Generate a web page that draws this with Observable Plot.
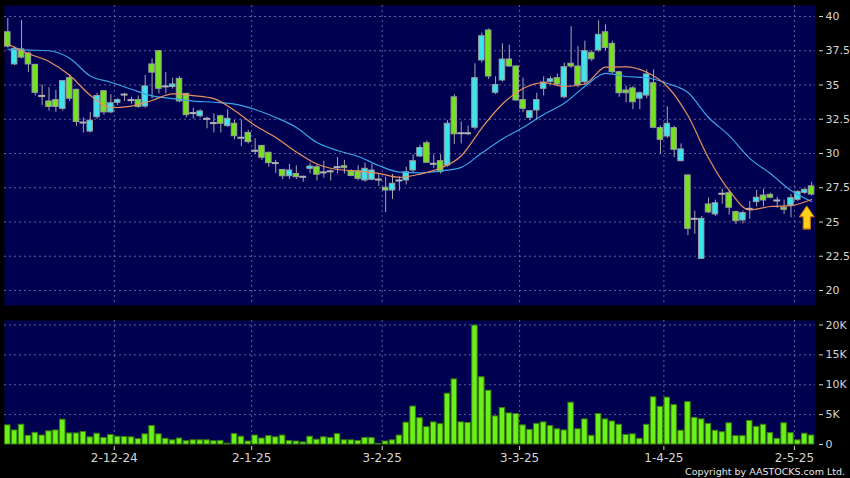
<!DOCTYPE html>
<html><head><meta charset="utf-8">
<script src="https://cdn.jsdelivr.net/npm/d3@7"></script>
<script src="https://cdn.jsdelivr.net/npm/@observablehq/plot@0.6"></script>
<style>
html,body{margin:0;padding:0;background:#000;}
#chart{position:relative;width:850px;height:478px;background:#000;overflow:hidden;font-family:"DejaVu Sans",sans-serif;}
#chart svg{position:absolute;left:0;}
#copy{position:absolute;right:5px;top:467px;line-height:10px;color:#e6e6e6;font-size:9.5px;font-family:"DejaVu Sans",sans-serif;white-space:nowrap;}
</style></head><body><div id="chart"><div id="copy">Copyright by AASTOCKS.com Ltd.</div></div>
<script>
// ---- data (daily candles, index 0..117) ----
const open = [38.85,36.5,37.6,37.3,36.47,34.2,33.8,33.9,33.26,35.5,34.65,32.26,31.6,32.65,34.55,33.0,33.7,34.3,33.9,33.9,
33.43,36.5,37.47,34.9,34.85,35.45,34.35,32.95,32.72,32.53,32.22,32.72,32.0,32.17,31.15,31.5,30.2,30.55,30.05,29.3,
28.8,28.34,28.5,28.3,28.88,29.0,28.62,28.7,29.0,29.07,28.7,28.7,28.03,28.08,28.1,27.5,27.3,28.03,28.03,28.76,
29.78,30.75,29.25,29.44,29.12,34.1,31.48,31.48,31.88,36.79,38.98,34.43,35.33,36.86,36.35,33.9,32.6,33.14,34.72,35.22,
35.5,34.1,36.55,36.35,35.2,37.35,37.52,38.85,38.0,35.93,34.6,34.75,34.0,34.23,35.13,31.85,31.24,31.85,29.44,28.4,
25.23,22.31,26.28,25.55,27.06,27.1,25.72,25.11,25.96,26.45,26.93,26.98,26.57,26.04,26.2,26.62,27.13,27.6];
const high = [39.85,37.8,39.7,37.4,36.5,35.0,34.8,34.6,35.3,35.7,34.7,32.6,33.0,34.4,34.6,34.3,34.0,34.4,34.1,34.2,
35.7,36.9,37.5,35.9,35.5,35.6,34.4,33.3,33.2,32.65,32.9,32.8,33.2,32.4,32.45,31.7,31.07,30.6,30.1,29.5,
28.8,29.2,29.1,28.35,29.3,29.2,29.44,28.8,29.7,29.5,28.8,29.1,29.3,29.2,28.5,28.27,28.47,28.3,29.0,29.9,
30.6,30.9,29.9,29.9,32.4,34.3,32.3,32.0,36.55,38.8,39.1,35.6,38.0,37.9,36.4,35.5,33.1,34.4,35.6,35.6,
35.8,36.6,39.25,37.8,38.2,37.5,39.7,39.4,38.2,36.0,34.9,34.9,34.5,36.1,36.1,32.0,33.4,32.0,30.7,28.4,
25.8,25.4,26.75,26.6,27.4,27.3,25.8,25.8,26.5,27.3,27.4,27.1,26.8,26.6,27.0,27.3,27.4,27.9];
const low = [37.7,36.4,36.9,35.9,34.2,33.5,33.1,33.0,33.1,33.8,32.0,31.5,31.5,32.5,32.8,32.9,33.5,33.8,33.6,33.3,
33.3,34.0,34.35,34.35,34.7,33.7,32.6,32.5,32.6,31.8,31.5,31.5,31.9,31.0,30.5,30.7,29.9,29.5,29.0,28.55,
28.1,28.1,28.1,27.9,28.5,28.0,28.2,28.0,28.5,28.5,28.3,28.0,27.9,28.0,27.6,25.7,26.64,27.25,27.7,28.6,
29.7,29.3,28.9,28.5,29.0,30.66,30.7,31.3,31.7,36.6,35.4,34.3,35.2,36.3,33.8,33.0,32.4,32.4,34.2,35.0,
34.9,34.0,36.2,34.8,35.0,36.7,37.4,37.5,35.8,34.1,33.7,33.2,33.2,34.0,31.8,29.93,31.1,29.7,29.4,24.0,
24.1,22.3,25.6,25.4,26.3,25.5,24.8,24.85,25.2,26.1,26.1,26.7,26.0,25.55,25.3,26.5,27.0,26.9];
const close = [37.8,37.64,37.0,36.5,34.43,34.2,33.4,33.4,35.28,34.0,32.3,32.26,32.4,34.2,33.0,33.67,33.9,34.3,33.9,33.4,
34.9,35.9,34.72,34.9,35.04,33.8,32.8,32.95,33.07,32.53,32.22,32.17,32.53,31.26,31.15,30.83,30.2,29.69,29.3,29.3,
28.34,28.76,28.27,28.3,29.05,28.45,28.62,28.7,29.0,28.93,28.36,28.15,28.88,28.76,28.1,27.3,27.79,28.03,28.63,29.44,
30.4,29.32,29.25,28.64,32.17,31.4,31.48,31.48,35.5,38.56,35.62,35.0,36.86,36.35,33.87,33.26,33.09,33.9,35.18,35.42,
35.04,36.3,36.35,35.0,37.47,36.88,38.66,37.71,35.93,34.4,34.4,33.74,34.4,35.77,31.88,31.0,32.17,30.27,30.3,24.5,
25.23,25.23,25.7,26.37,27.06,26.04,25.06,25.65,25.96,26.77,26.57,26.77,26.57,25.89,26.74,27.18,27.35,27.0];
const volume = [3200,2350,3300,1450,1950,1500,2200,2350,4150,1850,
1850,2100,1200,1800,1100,1600,1300,1250,1200,900,
1700,3100,1700,950,700,1000,550,700,700,700,
550,600,150,1750,1300,500,1500,1000,1400,1200,
1500,600,500,350,1300,800,1200,1100,1750,700,
700,600,1100,1100,100,500,700,1500,3650,6350,
4400,2900,3700,3400,8500,10900,3700,3600,19900,11250,
9000,4700,6100,5200,5100,3200,2450,3450,3700,3100,
2550,2350,7000,2550,4200,1450,5100,4200,3850,3300,
1600,1700,950,3300,7900,6300,7850,6600,2300,7100,
4450,4200,3450,2300,2050,3550,1400,1400,3950,2950,
3300,1900,950,3550,1900,700,1800,1500];
// moving averages every third session
const maIdx = d3.range(0, 118, 3);
const ma10 = [37.99,37.28,36.72,35.71,34.25,33.34,33.46,33.87,34.35,34.23,34.01,33.14,32.04,31.17,30.11,29.23,28.83,28.72,28.55,28.26,
28.5,28.94,29.82,31.86,33.61,34.74,35.18,34.89,35.07,36.31,36.33,35.93,34.89,32.77,29.67,27.3,25.88,26.13,26.2,26.64];
const ma20 = [37.61,37.55,37.5,36.95,35.66,35.2,34.69,34.21,34.01,33.83,33.74,33.61,33.21,32.63,31.9,30.8,30.22,29.78,29.12,28.64,
28.58,28.72,28.99,30.04,31.06,31.9,32.85,33.67,34.89,35.85,35.62,35.53,35.11,34.45,32.63,31.31,29.64,28.54,27.3,26.5];
// first session of each month and its label
const monthStartIdx = [16, 36, 55, 75, 96, 115];
const monthLabels = ["2-12-24", "2-1-25", "3-2-25", "3-3-25", "1-4-25", "2-5-25"];
const priceTicks = [20, 22.5, 25, 27.5, 30, 32.5, 35, 37.5, 40];
const volTicks = [0, 5000, 10000, 15000, 20000];
const volLabels = ["0", "5K", "10K", "15K", "20K"];
const marker = [{i: 116.3, price: 24.5}];

// ---- styles ----
const NAVY = "#000050", GREEN = "#74e21c", CYAN = "#3ae6ee", DOJI = "#b4b4b4",
      OUTLINE = "#9a9fa0", WICK = "#a8a8a8", GRID = "#7272aa",
      ORANGE = "#e8915c", BLUE = "#3aa3e8", VOLFILL = "#6cf01a", VOLSTROKE = "#3a7d0a";

const candles = open.map((o, i) => ({i, o, h: high[i], l: low[i], c: close[i], v: volume[i]}));
const ma = maIdx.map((i, k) => ({i, m10: ma10[k], m20: ma20[k]}));
const gridXs = monthStartIdx.map(i => i - 0.5);
const monthMap = new Map(gridXs.map((g, k) => [g, monthLabels[k]]));
const volMap = new Map(volTicks.map((v, k) => [v, volLabels[k]]));
const dir = d => d.c > d.o ? CYAN : d.c < d.o ? GREEN : DOJI;
const xDomain = [-0.48, 117.57];
const style = {background: "transparent", color: "#d4d4d4", fontFamily: "DejaVu Sans, sans-serif", fontSize: "11px", overflow: "visible"};

const blockArrow = {
  draw(ctx, l) {
    const hw = 7.5, sw = 3.6, hh = 11;
    ctx.moveTo(-sw, 0); ctx.lineTo(-sw, -l + hh); ctx.lineTo(-hw, -l + hh);
    ctx.lineTo(0, -l); ctx.lineTo(hw, -l + hh); ctx.lineTo(sw, -l + hh);
    ctx.lineTo(sw, 0); ctx.closePath();
  }
};

const pricePlot = Plot.plot({
  width: 850, height: 310, marginLeft: 4, marginRight: 35, marginTop: 5, marginBottom: 5,
  style,
  color: {type: "identity"},
  x: {domain: xDomain, axis: null},
  y: {domain: [18.905, 40.803], label: null},
  marks: [
    Plot.frame({fill: NAVY, stroke: "none"}),
    Plot.gridY(priceTicks, {stroke: GRID, strokeOpacity: 0.85, strokeDasharray: "2,3"}),
    Plot.gridX(gridXs, {stroke: GRID, strokeOpacity: 0.85, strokeDasharray: "2,3"}),
    Plot.ruleX(candles, {x: "i", y1: "l", y2: "h", stroke: WICK, strokeWidth: 1}),
    Plot.rect(candles.filter(d => d.o !== d.c), {x1: d => d.i - 0.4, x2: d => d.i + 0.4, y1: "o", y2: "c", fill: dir, stroke: OUTLINE, strokeWidth: 1}),
    Plot.ruleY(candles.filter(d => d.o === d.c), {y: "c", x1: d => d.i - 0.5, x2: d => d.i + 0.5, stroke: DOJI, strokeWidth: 2}),
    Plot.line(ma, {x: "i", y: "m20", stroke: BLUE, strokeWidth: 1.2, curve: "monotone-x"}),
    Plot.line(ma, {x: "i", y: "m10", stroke: ORANGE, strokeWidth: 1.2, curve: "monotone-x"}),
    Plot.vector(marker, {x: "i", y: "price", length: 23, anchor: "start", shape: blockArrow, fill: "#ffd21a", stroke: "#c86a00", strokeWidth: 1}),
    Plot.axisY(priceTicks, {anchor: "right", label: null, tickSize: 4, tickPadding: 3, dx: 3, fontSize: 11, tickFormat: d => String(d)})
  ]
});
pricePlot.style.top = "0px";

const volPlot = Plot.plot({
  width: 850, height: 168, marginLeft: 4, marginRight: 35, marginTop: 10, marginBottom: 34,
  style,
  x: {domain: xDomain, label: null},
  y: {domain: [0, 20750], label: null},
  marks: [
    Plot.frame({fill: NAVY, stroke: "none"}),
    Plot.gridY(volTicks.filter(v => v > 0), {stroke: GRID, strokeOpacity: 0.85, strokeDasharray: "2,3"}),
    Plot.gridX(gridXs, {stroke: GRID, strokeOpacity: 0.85, strokeDasharray: "2,3"}),
    Plot.rectY(candles, {x1: d => d.i - 0.4, x2: d => d.i + 0.4, y: "v", fill: VOLFILL, stroke: VOLSTROKE, strokeWidth: 1}),
    Plot.axisY(volTicks, {anchor: "right", label: null, tickSize: 4, tickPadding: 3, dx: 3, fontSize: 11, tickFormat: d => volMap.get(d)}),
    Plot.axisX(gridXs, {anchor: "bottom", label: null, tickSize: 4, tickPadding: 3, dy: 2, fontSize: 12, tickFormat: d => monthMap.get(d)})
  ]
});
volPlot.style.top = "310px";

const chart = document.getElementById("chart");
chart.appendChild(pricePlot);
chart.appendChild(volPlot);
</script>
</body></html>
